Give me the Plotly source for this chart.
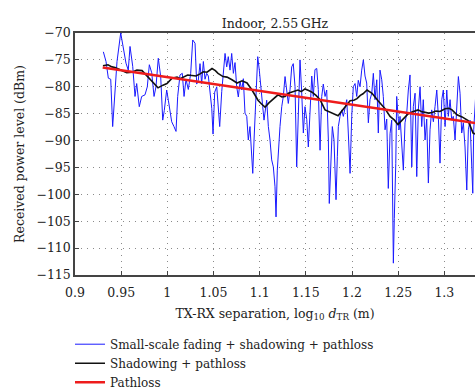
import plotly.graph_objects as go

# ---- data ----
fading_x = [0.9307, 0.9336, 0.9361, 0.9387, 0.9408, 0.9433, 0.9455, 0.9495, 0.9531, 0.9552,
            0.9577, 0.9596, 0.9625, 0.9650, 0.9668, 0.9696, 0.9722, 0.9758, 0.9783, 0.9805,
            0.9831, 0.9856, 0.9877, 0.9902, 0.9928, 0.9950, 0.9967, 0.9993, 1.0011, 1.0047,
            1.0072, 1.0094, 1.0112, 1.0137, 1.0162, 1.0181, 1.0202, 1.0227, 1.0253, 1.0275,
            1.0300, 1.0318, 1.0335, 1.0354, 1.0372, 1.0390, 1.0408, 1.0426, 1.0444, 1.0462,
            1.0481, 1.0495, 1.0513, 1.0535, 1.0552, 1.0567, 1.0589, 1.0606, 1.0625, 1.0643,
            1.0660, 1.0679, 1.0697, 1.0715, 1.0733, 1.0751, 1.0769, 1.0787, 1.0806, 1.0823,
            1.0841, 1.0860, 1.0877, 1.0895, 1.0914, 1.0925, 1.0939, 1.0957, 1.0979, 1.0996,
            1.1015, 1.1033, 1.1047, 1.1061, 1.1076, 1.1094, 1.1112, 1.1130, 1.1148, 1.1166,
            1.1177, 1.1191, 1.1206, 1.1220, 1.1239, 1.1256, 1.1275, 1.1293, 1.1310, 1.1329,
            1.1347, 1.1364, 1.1383, 1.1401, 1.1419, 1.1437, 1.1455, 1.1473, 1.1491, 1.1510,
            1.1527, 1.1545, 1.1564, 1.1581, 1.1599, 1.1618, 1.1635, 1.1654, 1.1672, 1.1689,
            1.1708, 1.1726, 1.1744, 1.1754, 1.1773, 1.1787, 1.1805, 1.1816, 1.1827, 1.1841,
            1.1852, 1.1870, 1.1889, 1.1906, 1.1924, 1.1943, 1.1960, 1.1979, 1.1997, 1.2014,
            1.2033, 1.2051, 1.2068, 1.2087, 1.2105, 1.2123, 1.2141, 1.2159, 1.2177, 1.2195,
            1.2214, 1.2231, 1.2249, 1.2268, 1.2285, 1.2303, 1.2322, 1.2339, 1.2358, 1.2376,
            1.2393, 1.2412, 1.2430, 1.2448, 1.2458, 1.2474, 1.2484, 1.2495, 1.2509, 1.2520,
            1.2539, 1.2556, 1.2574, 1.2593, 1.2610, 1.2628, 1.2647, 1.2664, 1.2683, 1.2701,
            1.2718, 1.2737, 1.2755, 1.2772, 1.2791, 1.2809, 1.2827, 1.2845, 1.2863, 1.2881,
            1.2899, 1.2918, 1.2935, 1.2953, 1.2972, 1.2989, 1.3008, 1.3026, 1.3043, 1.3062,
            1.3080, 1.3097, 1.3116, 1.3134, 1.3152, 1.3170, 1.3188, 1.3206, 1.3224, 1.3243,
            1.3260, 1.3278, 1.3297, 1.3308, 1.3318, 1.3332, 1.3345]
fading_y = [-73.5, -75.3, -78.4, -78.6, -87.4, -80.0, -75.3, -70.0, -73.2, -75.6,
            -76.9, -72.5, -76.2, -81.8, -79.4, -83.7, -81.8, -81.5, -80.0, -75.9,
            -77.4, -81.8, -80.0, -74.7, -78.1, -86.2, -84.4, -80.6, -82.5, -86.5,
            -87.4, -88.3, -81.8, -77.8, -77.5, -81.8, -78.6, -80.5, -77.5, -71.3,
            -71.9, -79.5, -78.8, -75.7, -79.4, -75.3, -78.6, -77.5, -78.0, -80.6,
            -84.0, -88.8, -81.0, -80.0, -84.9, -87.4, -80.9, -77.5, -73.8, -76.3,
            -74.4, -76.9, -73.8, -77.5, -75.5, -80.0, -81.9, -79.0, -80.6, -78.5,
            -84.9, -85.5, -89.9, -87.4, -93.0, -96.1, -89.9, -83.0, -74.4, -76.9,
            -81.2, -83.7, -86.2, -84.3, -82.5, -87.4, -89.9, -93.6, -94.9, -98.6,
            -104.2, -95.5, -91.0, -87.4, -83.7, -81.8, -78.1, -80.6, -83.1, -80.5,
            -76.3, -75.7, -80.0, -94.9, -83.7, -75.0, -81.0, -88.6, -83.7, -86.1,
            -91.2, -83.7, -78.0, -81.8, -76.8, -76.6, -80.5, -91.8, -81.8, -79.5,
            -81.8, -80.6, -89.9, -101.7, -94.3, -87.4, -89.9, -95.0, -101.0, -93.0,
            -87.4, -85.5, -84.3, -85.5, -83.7, -82.4, -88.6, -96.1, -85.5, -80.0,
            -79.4, -81.8, -78.8, -80.0, -76.9, -75.0, -78.0, -79.3, -86.7, -82.4,
            -81.2, -77.5, -82.4, -78.7, -88.6, -76.9, -78.7, -81.8, -88.0, -86.0,
            -98.9, -88.7, -86.2, -112.8, -104.5, -94.3, -81.8, -84.3, -88.0, -85.5,
            -89.9, -95.5, -86.7, -84.9, -80.6, -77.8, -94.9, -83.7, -81.2, -96.7,
            -84.3, -80.0, -87.4, -82.4, -89.9, -86.0, -97.9, -88.0, -84.3, -86.5,
            -83.7, -80.6, -85.5, -94.2, -82.4, -80.6, -87.4, -80.6, -85.5, -82.4,
            -86.2, -85.5, -89.9, -84.9, -78.1, -81.2, -88.6, -86.7, -91.2, -99.2,
            -88.0, -86.2, -93.0, -99.8, -88.0, -83.0, -80.0]

shadow_x = [0.9303, 0.9357, 0.9400, 0.9433, 0.9470, 0.9509, 0.9560, 0.9617, 0.9670, 0.9726,
            0.9791, 0.9845, 0.9899, 0.9953, 0.9996, 1.0051, 1.0105, 1.0140, 1.0170, 1.0220,
            1.0267, 1.0310, 1.0354, 1.0390, 1.0430, 1.0484, 1.0520, 1.0549, 1.0603, 1.0646,
            1.0700, 1.0755, 1.0809, 1.0863, 1.0917, 1.0982, 1.1020, 1.1058, 1.1100, 1.1134,
            1.1199, 1.1240, 1.1275, 1.1310, 1.1350, 1.1415, 1.1450, 1.1491, 1.1530, 1.1567,
            1.1610, 1.1654, 1.1708, 1.1750, 1.1784, 1.1849, 1.1890, 1.1924, 1.1979, 1.2020,
            1.2054, 1.2090, 1.2119, 1.2163, 1.2217, 1.2282, 1.2358, 1.2412, 1.2460, 1.2498,
            1.2574, 1.2610, 1.2650, 1.2715, 1.2750, 1.2791, 1.2830, 1.2867, 1.2910, 1.2953,
            1.3008, 1.3050, 1.3083, 1.3137, 1.3192, 1.3257, 1.3311, 1.3340]
shadow_y = [-76.1, -75.9, -76.3, -76.4, -76.7, -77.0, -77.4, -77.3, -76.9, -77.0,
            -78.2, -79.4, -80.2, -79.7, -79.4, -78.4, -78.2, -78.5, -78.2, -77.8,
            -77.9, -78.0, -77.6, -77.2, -77.3, -76.6, -77.0, -77.5, -78.1, -78.2,
            -78.7, -79.3, -78.9, -79.3, -80.6, -82.5, -83.2, -83.8, -83.0, -82.5,
            -81.5, -81.9, -81.8, -81.2, -81.0, -80.6, -80.9, -80.4, -80.7, -81.0,
            -81.6, -82.4, -84.3, -84.6, -84.9, -85.4, -84.5, -83.7, -82.6, -82.5,
            -82.2, -81.6, -81.3, -80.6, -81.2, -82.6, -84.1, -85.5, -86.2, -87.0,
            -85.5, -85.0, -84.7, -84.3, -84.6, -84.7, -84.9, -84.8, -84.5, -84.6,
            -84.1, -84.0, -84.3, -85.2, -85.6, -86.3, -88.6, -88.8]

pathloss_x = [0.930, 1.340]
pathloss_y = [-76.4, -86.9]

x_ticks = [0.9, 0.95, 1.0, 1.05, 1.1, 1.15, 1.2, 1.25, 1.3]
x_tick_labels = ["0.9", "0.95", "1", "1.05", "1.1", "1.15", "1.2", "1.25", "1.3"]
y_ticks = [-70, -75, -80, -85, -90, -95, -100, -105, -110, -115]
y_tick_labels = ["\u221270", "\u221275", "\u221280", "\u221285", "\u221290", "\u221295",
                 "\u2212100", "\u2212105", "\u2212110", "\u2212115"]

names = ["Small-scale fading + shadowing + pathloss", "Shadowing + pathloss", "Pathloss"]

FONT = "DejaVu Serif"
TXT = "#222222"

fig = go.Figure()
fig.add_trace(go.Scatter(x=fading_x, y=fading_y, mode="lines", name=names[0],
                         line=dict(color="#1a1aff", width=1)))
fig.add_trace(go.Scatter(x=shadow_x, y=shadow_y, mode="lines", name=names[1],
                         line=dict(color="#111111", width=1.6)))
fig.add_trace(go.Scatter(x=pathloss_x, y=pathloss_y, mode="lines", name=names[2],
                         line=dict(color="#ee1c1c", width=2.6)))

axis_common = dict(
    showline=True, linecolor="#444444", linewidth=1.5,
    ticks="inside", ticklen=4, tickcolor="#444444",
    showgrid=True, gridcolor="#8a8a8a", gridwidth=1, griddash="1px,5px",
    zeroline=False,
    tickfont=dict(family=FONT, size=12.5, color=TXT),
)

fig.update_layout(
    width=475, height=389,
    margin=dict(l=75, r=0, t=33, b=114, autoexpand=False),
    paper_bgcolor="white", plot_bgcolor="white",
    font=dict(family=FONT, size=12, color=TXT),
    title=dict(text="Indoor, 2.55\u2009GHz", x=0.5, xref="paper", xanchor="center",
               y=1, yref="paper", yanchor="bottom", pad=dict(b=5),
               font=dict(family=FONT, size=12.5, color=TXT)),
    xaxis=dict(range=[0.9, 1.3332], tickvals=x_ticks, ticktext=x_tick_labels,
               mirror=True, ticklabelstandoff=5,
               title=dict(text="TX-RX separation, log<sub>10</sub> <i>d</i><sub>TR</sub> (m)",
                          standoff=10, font=dict(family=FONT, size=12.5, color=TXT)),
               **axis_common),
    yaxis=dict(range=[-115, -70], tickvals=y_ticks, ticktext=y_tick_labels,
               ticklabelstandoff=0,
               title=dict(text="Received power level (dBm)", standoff=9,
                          font=dict(family=FONT, size=12.5, color=TXT)),
               **axis_common),
    showlegend=True,
    legend=dict(x=-0.0125, xanchor="left", y=-0.226, yanchor="top",
                bgcolor="rgba(0,0,0,0)", borderwidth=0, tracegroupgap=0,
                font=dict(family=FONT, size=12, color=TXT)),
)

fig.write_html("out.html")
